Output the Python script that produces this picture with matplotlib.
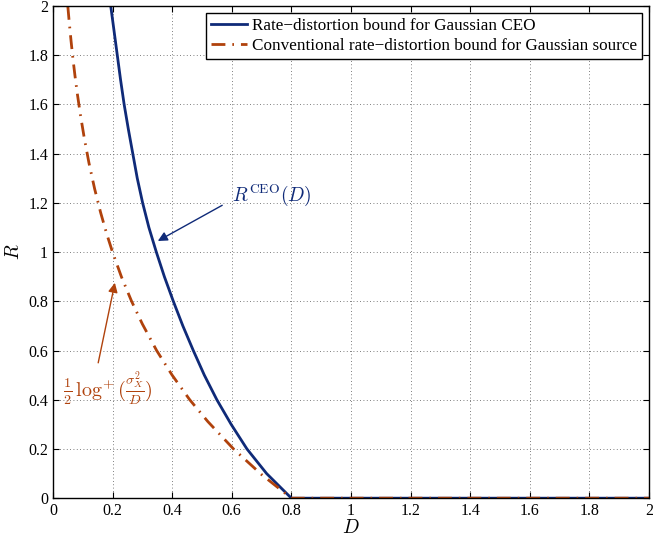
import matplotlib
matplotlib.use('Agg')
import matplotlib.pyplot as plt

plt.rcParams['font.family'] = ['Liberation Serif', 'DejaVu Serif']
plt.rcParams['mathtext.fontset'] = 'cm'

# Rate-distortion bound for Gaussian CEO
d_ceo = [0.194, 0.205, 0.216, 0.227, 0.239, 0.253, 0.268, 0.283, 0.301, 0.322,
         0.347, 0.374, 0.404, 0.436, 0.471, 0.508, 0.550, 0.598, 0.651, 0.717,
         0.800, 2.0]
r_ceo = [2.0, 1.9, 1.8, 1.7, 1.6, 1.5, 1.4, 1.3, 1.2, 1.1,
         1.0, 0.9, 0.8, 0.7, 0.6, 0.5, 0.4, 0.3, 0.2, 0.1,
         0.0, 0.0]

# Conventional rate-distortion bound for Gaussian source
d_conv = [0.050, 0.055, 0.061, 0.067, 0.074, 0.082, 0.092, 0.105, 0.121, 0.140,
          0.160, 0.180, 0.200, 0.230, 0.264, 0.300, 0.348, 0.400, 0.459, 0.520,
          0.606, 0.700, 0.800, 2.0]
r_conv = [2.0, 1.931, 1.857, 1.788, 1.717, 1.643, 1.560, 1.465, 1.362, 1.257,
          1.161, 1.076, 1.0, 0.899, 0.800, 0.708, 0.600, 0.500, 0.400, 0.311,
          0.200, 0.096, 0.0, 0.0]

blue = '#0f2a78'
red = '#b0420c'

fig = plt.figure(figsize=(6.53, 5.38), dpi=100)
ax = fig.add_axes([0.081, 0.074, 0.913, 0.915])

ax.plot(d_ceo, r_ceo, color=blue, lw=2, label='Rate\u2212distortion bound for Gaussian CEO')
ax.plot(d_conv, r_conv, color=red, lw=2, linestyle=(0, (5, 2.5, 0.6, 2.5)),
        label='Conventional rate\u2212distortion bound for Gaussian source')

ticks = [0, 0.2, 0.4, 0.6, 0.8, 1, 1.2, 1.4, 1.6, 1.8, 2]
tick_labels = ['0', '0.2', '0.4', '0.6', '0.8', '1', '1.2', '1.4', '1.6', '1.8', '2']
ax.set_xlim(0, 2)
ax.set_ylim(0, 2)
ax.set_xticks(ticks)
ax.set_yticks(ticks)
ax.set_xticklabels(tick_labels)
ax.set_yticklabels(tick_labels)
ax.tick_params(direction='in', top=True, right=True, labelsize=11.5, length=4, width=0.8)
ax.grid(True, linestyle=(0, (1, 3)), color='#555555', linewidth=0.6)
for s in ax.spines.values():
    s.set_linewidth(1.0)

ax.set_xlabel('$D$', fontsize=14, labelpad=0)
ax.set_ylabel('$R$', fontsize=14, labelpad=4)

leg = ax.legend(loc='upper right', fontsize=12.3, fancybox=False, edgecolor='black',
                framealpha=1, handlelength=2.1, borderpad=0.3, labelspacing=0.25,
                borderaxespad=0.4, handletextpad=0.3)
leg.get_frame().set_linewidth(1.0)

# R^CEO(D) label and arrow
ax.text(0.60, 1.23, r'$R^{\mathrm{CEO}}(D)$', color=blue, fontsize=14, va='center', ha='left')
ax.annotate('', xy=(0.352, 1.045), xytext=(0.568, 1.19),
            arrowprops=dict(arrowstyle='-|>', color=blue, lw=1.0, shrinkA=0, shrinkB=0,
                            mutation_scale=14))

# 1/2 log+ label and arrow
ax.text(0.035, 0.445, r'$\frac{1}{2}\,\log^{+}(\frac{\sigma_X^2}{D})$', color=red,
        fontsize=14.5, va='center', ha='left')
ax.annotate('', xy=(0.208, 0.875), xytext=(0.152, 0.55),
            arrowprops=dict(arrowstyle='-|>', color=red, lw=1.0, shrinkA=0, shrinkB=0,
                            mutation_scale=14))

fig.savefig('out.png', dpi=100)
